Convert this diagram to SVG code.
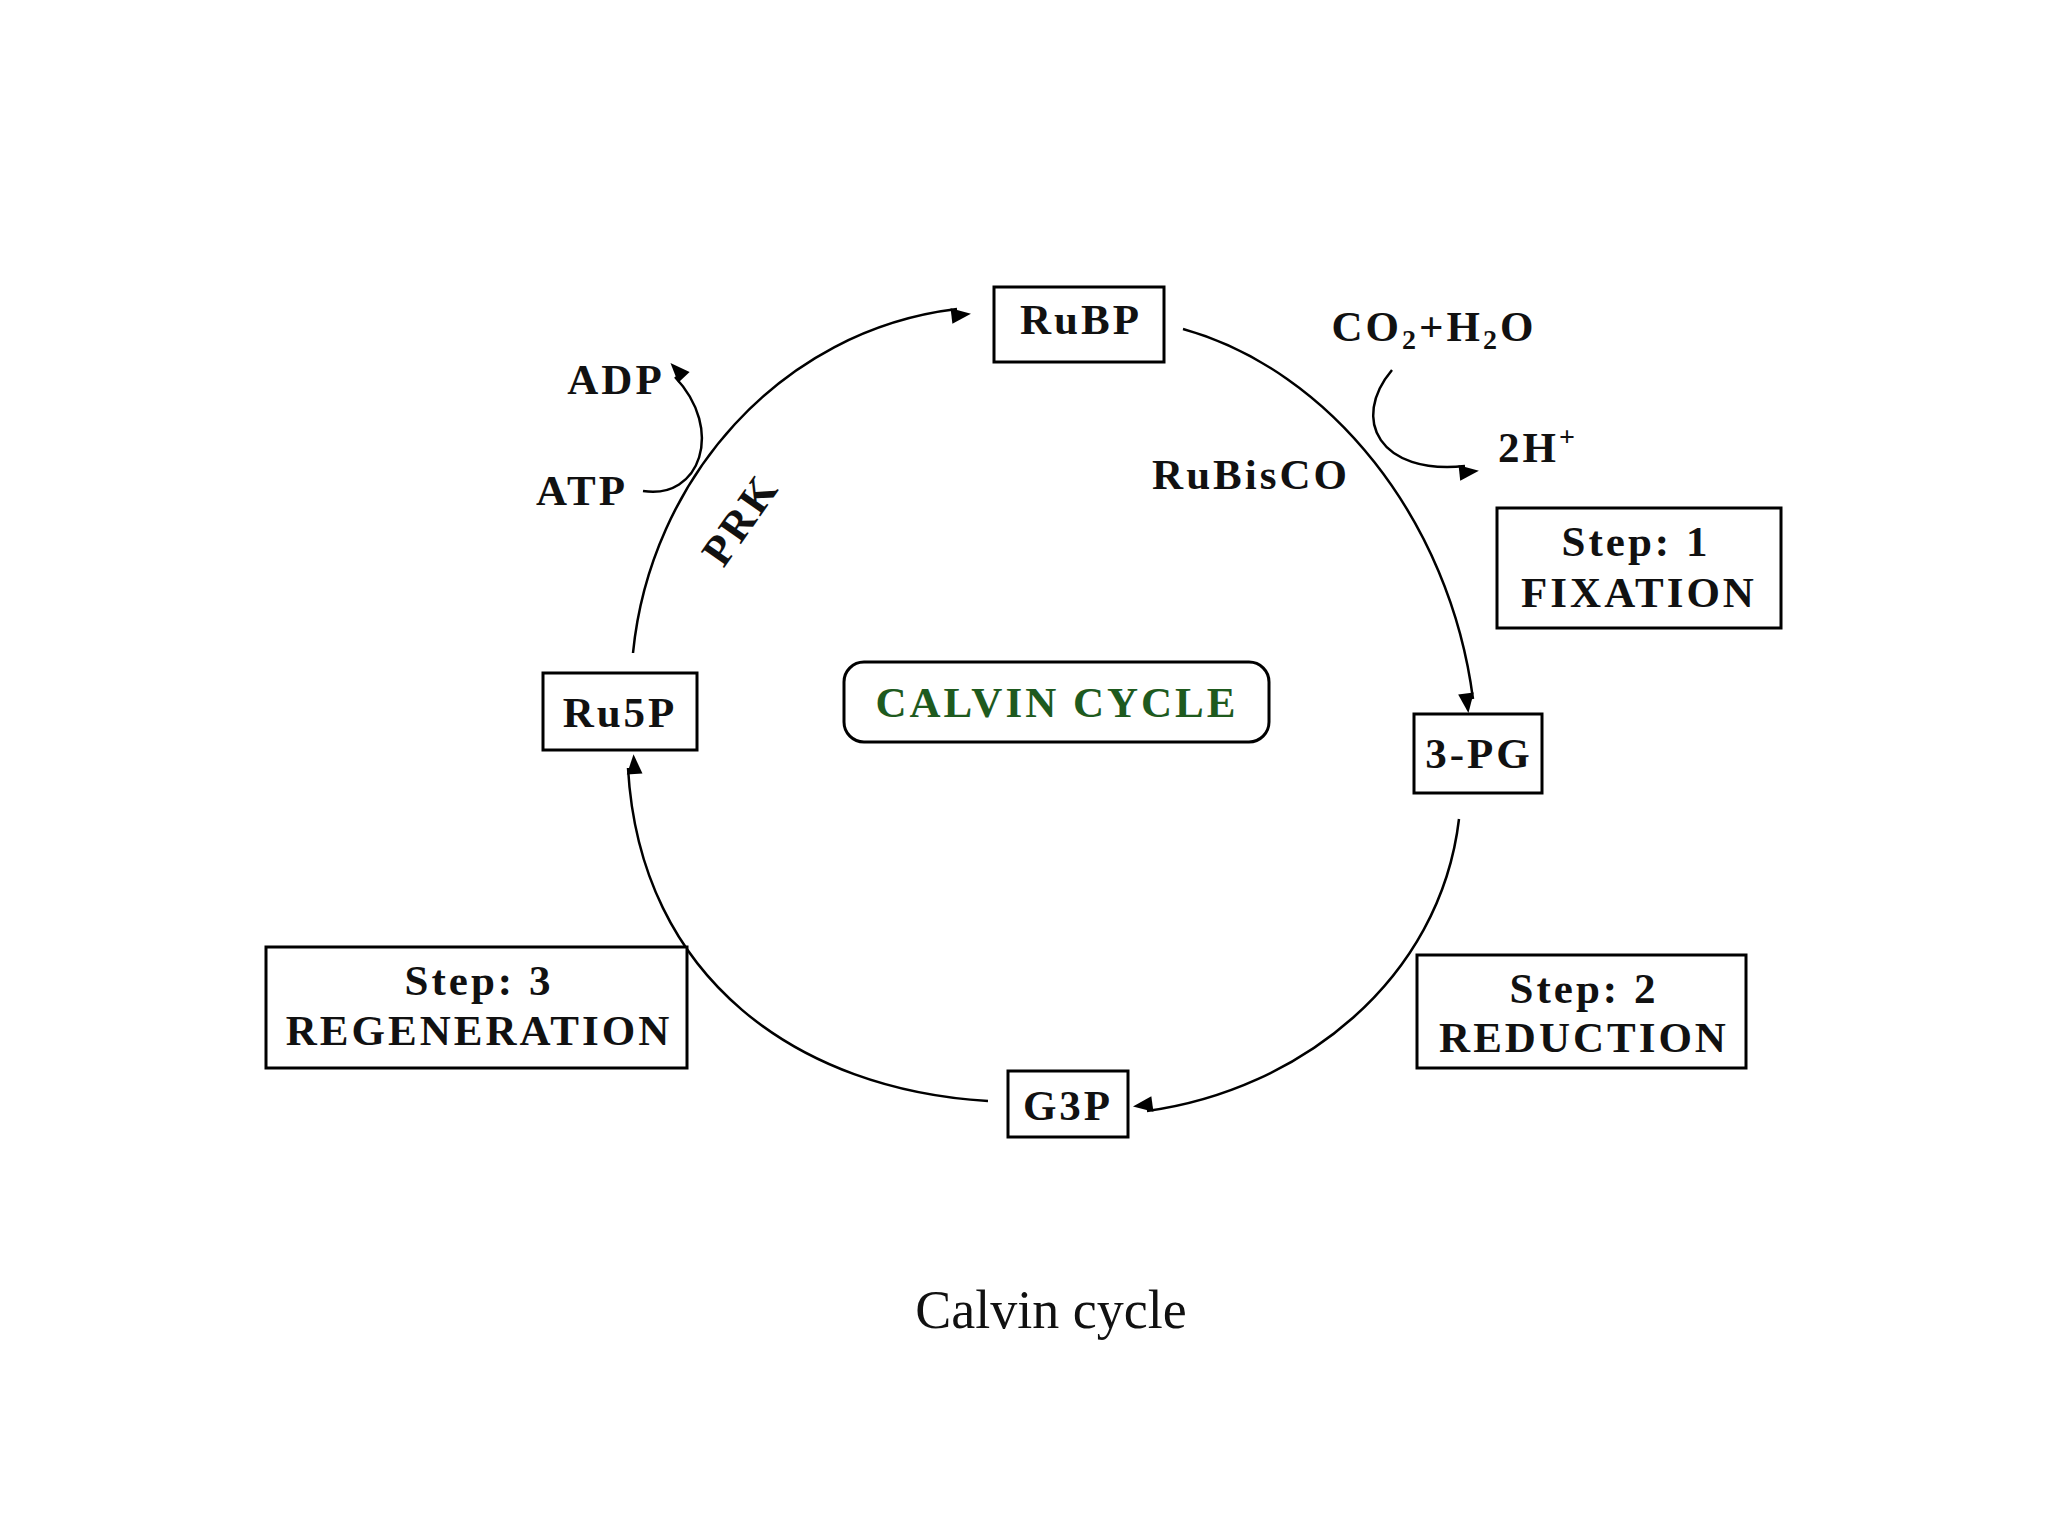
<svg xmlns="http://www.w3.org/2000/svg" width="2048" height="1536" viewBox="0 0 2048 1536">
<defs>
<marker id="ah" viewBox="0 0 10 10" refX="9" refY="5" markerWidth="7" markerHeight="7" markerUnits="userSpaceOnUse" orient="auto" style="overflow:visible"><path d="M0,1 L10,5 L0,9 Z" fill="#000" transform="scale(2.8)"/></marker>
<style>
.b{fill:#fff;stroke:#000;stroke-width:3}
.t{font-family:"Liberation Serif",serif;font-weight:bold;font-size:43px;fill:#111;text-anchor:middle;letter-spacing:3px}
.c{fill:none;stroke:#000;stroke-width:2.5}
</style>
</defs>
<rect width="2048" height="1536" fill="#fff"/>
<g id="connectors">
<path class="c" d="M1183,329 C1330,370 1450,520 1473,699" marker-end="url(#ah)"/>
<path class="c" d="M1392,370 C1350,420 1380,475 1465,466" marker-end="url(#ah)"/>
<path class="c" d="M1459,819 C1440,980 1300,1090 1147,1111" marker-end="url(#ah)"/>
<path class="c" d="M988,1101 C800,1090 640,980 628,768" marker-end="url(#ah)"/>
<path class="c" d="M633,653 C650,480 780,330 957,309" marker-end="url(#ah)"/>
<path class="c" d="M643,491 C700,500 725,430 675,377" marker-end="url(#ah)"/>
</g>
<g id="RuBP"><rect class="b" x="994" y="287" width="170" height="75"/><text class="t" x="1081" y="334">RuBP</text></g>
<g id="PG3"><rect class="b" x="1414" y="714" width="128" height="79"/><text class="t" x="1479" y="768">3-PG</text></g>
<g id="G3P"><rect class="b" x="1008" y="1071" width="120" height="66"/><text class="t" x="1068" y="1120">G3P</text></g>
<g id="Ru5P"><rect class="b" x="543" y="673" width="154" height="77"/><text class="t" x="620" y="727">Ru5P</text></g>
<g id="calvin"><rect x="844" y="662" width="425" height="80" rx="20" fill="#fff" stroke="#000" stroke-width="3"/><text class="t" x="1057" y="717" style="fill:#1e5a1e">CALVIN CYCLE</text></g>
<g id="step1"><rect class="b" x="1497" y="508" width="284" height="120"/><text class="t" x="1636" y="556">Step: 1</text><text class="t" x="1639" y="607">FIXATION</text></g>
<g id="step2"><rect class="b" x="1417" y="955" width="329" height="113"/><text class="t" x="1584" y="1003">Step: 2</text><text class="t" x="1584" y="1052">REDUCTION</text></g>
<g id="step3"><rect class="b" x="266" y="947" width="421" height="121"/><text class="t" x="479" y="995">Step: 3</text><text class="t" x="479" y="1045">REGENERATION</text></g>
<g id="labels">
<text class="t" x="1434" y="341">CO<tspan font-size="28" dy="8">2</tspan><tspan dy="-8">+H</tspan><tspan font-size="28" dy="8">2</tspan><tspan dy="-8">O</tspan></text>
<text class="t" x="1498" y="462" style="text-anchor:start">2H<tspan font-size="28" dy="-16">+</tspan></text>
<text class="t" x="1251" y="489">RuBisCO</text>
<text class="t" x="616" y="394">ADP</text>
<text class="t" x="582" y="505">ATP</text>
<text class="t" transform="translate(752,528) rotate(-55)">PRK</text>
<text x="1051" y="1328" style="font-family:'Liberation Serif',serif;font-size:54px;text-anchor:middle;fill:#111">Calvin cycle</text>
</g>
</svg>
